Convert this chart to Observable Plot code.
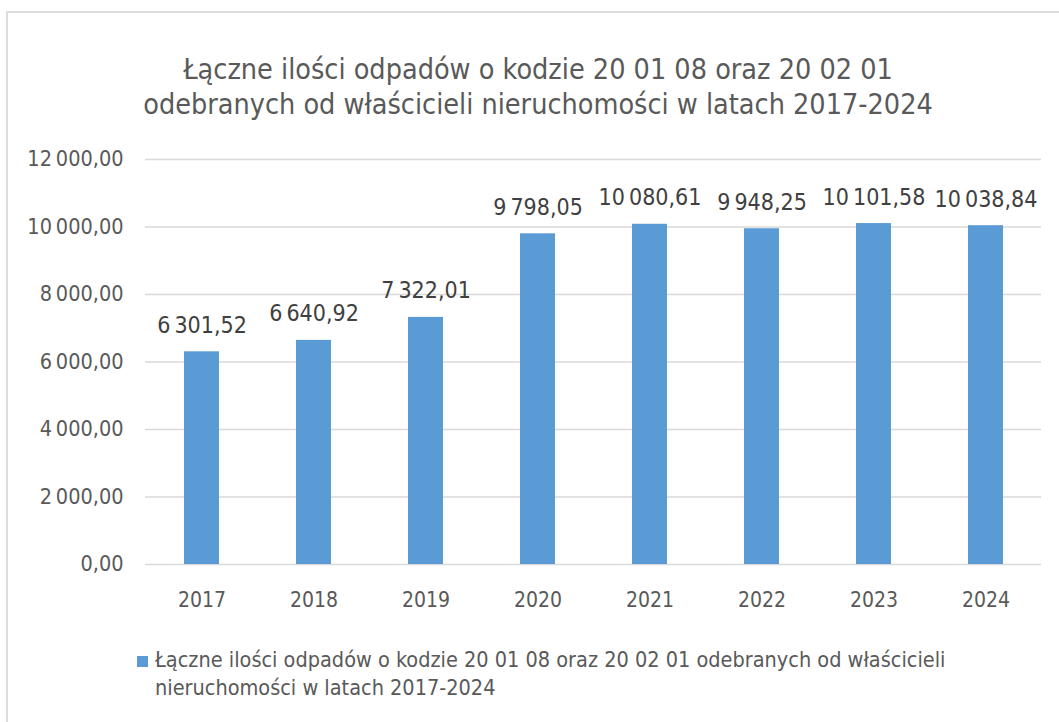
<!DOCTYPE html>
<html><head><meta charset="utf-8">
<script src="https://cdn.jsdelivr.net/npm/d3@7"></script>
<script src="https://cdn.jsdelivr.net/npm/@observablehq/plot@0.6"></script>
<style>
body{margin:0;background:#fff;overflow:hidden;font-family:"Liberation Sans Narrow","DejaVu Sans Condensed","Open Sans",sans-serif;}
#frame{position:absolute;left:6px;top:11px;width:1100px;height:800px;border-top:2px solid #dcdcdc;border-left:2px solid #dcdcdc;box-sizing:border-box;}
#title{position:absolute;left:0;width:1076px;top:52px;text-align:center;font-size:28.5px;line-height:35px;color:#595959;}
#chart{position:absolute;left:0;top:140px;}
#legend{position:absolute;left:137px;top:652px;width:900px;font-size:21.5px;line-height:28px;color:#595959;}
#legend .sw{position:absolute;left:0;top:4px;width:11px;height:11px;background:#5b9bd5;}
#legend .tx{position:absolute;left:18px;top:-6px;width:880px;}
</style></head>
<body>
<div id="frame"></div>
<div id="title">Łączne ilości odpadów o kodzie 20 01 08 oraz 20 02 01<br>odebranych od właścicieli nieruchomości w latach 2017-2024</div>
<div id="chart"></div>
<div id="legend"><div class="sw"></div><div class="tx">Łączne ilości odpadów o kodzie 20 01 08 oraz 20 02 01 odebranych od właścicieli<br>nieruchomości w latach 2017-2024</div></div>
<script>
const years = ["2017","2018","2019","2020","2021","2022","2023","2024"];
const values = [6301.52, 6640.92, 7322.01, 9798.05, 10080.61, 9948.25, 10101.58, 10038.84];
const yTicks = [0, 2000, 4000, 6000, 8000, 10000, 12000];

const loc = d3.formatLocale({decimal: ",", thousands: "\u2009", grouping: [3]});
const fmt = loc.format(",.2f");
const data = years.map((y, i) => ({year: y, value: values[i]}));
const FONT = '"Liberation Sans Narrow","DejaVu Sans Condensed","Open Sans",sans-serif';

const chart = Plot.plot({
  width: 1059,
  height: 480,
  marginTop: 19,
  marginBottom: 56,
  marginLeft: 145,
  marginRight: 18,
  style: {fontFamily: FONT, background: "transparent", overflow: "visible"},
  x: {domain: years, paddingInner: 0.69, paddingOuter: 0.345, label: null},
  y: {domain: [0, 12000], ticks: yTicks, label: null},
  marks: [
    Plot.gridY(yTicks, {stroke: "#d9d9d9", strokeOpacity: 1, strokeWidth: 1.3}),
    Plot.barY(data, {x: "year", y: "value", fill: "#5b9bd5"}),
    Plot.text(data, {x: "year", y: "value", text: d => fmt(d.value), lineAnchor: "bottom", dy: -19, fontSize: 23, fill: "#404040"}),
    Plot.axisY({ticks: yTicks, tickSize: 0, tickPadding: 22, tickFormat: d => fmt(d), fontSize: 21.5, color: "#595959", label: null}),
    Plot.axisX({tickSize: 0, tickPadding: 28, fontSize: 21, color: "#595959", label: null})
  ]
});
document.getElementById("chart").appendChild(chart);
</script>
</body></html>
